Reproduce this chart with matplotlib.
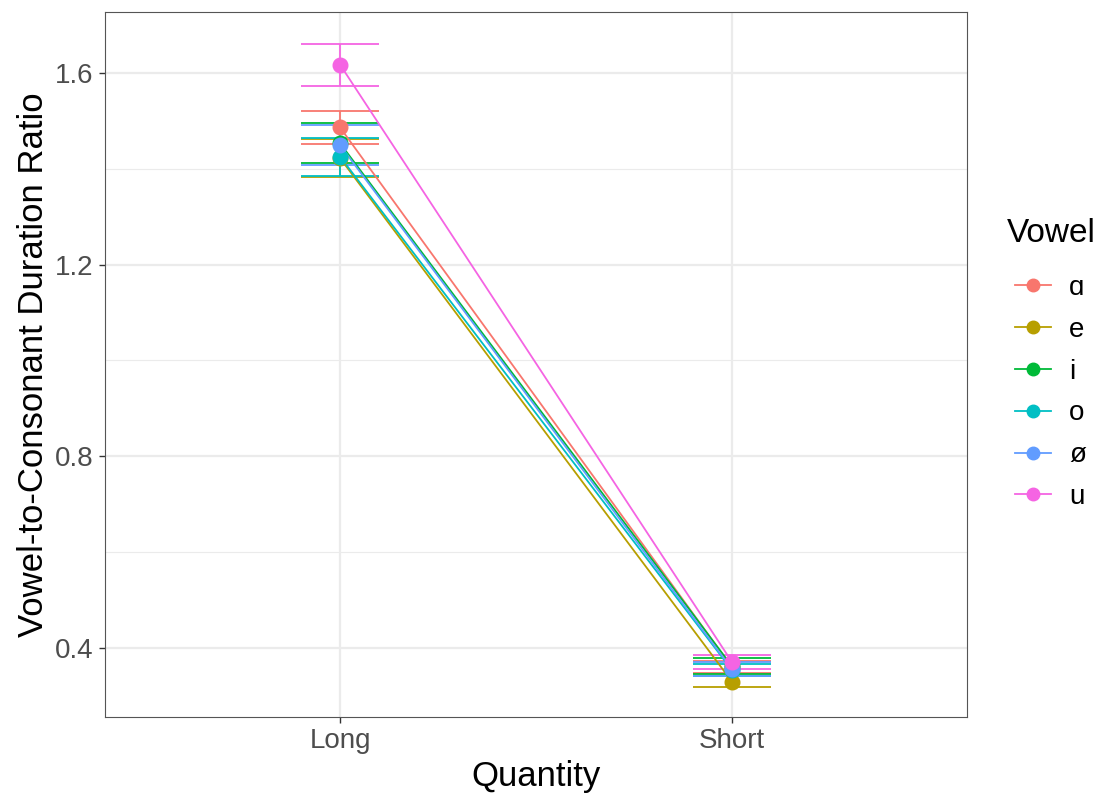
import matplotlib
matplotlib.use("Agg")
from matplotlib import pyplot as plt
from matplotlib.ticker import MultipleLocator
from matplotlib.lines import Line2D

# values
quantity = ["Long", "Short"]
vowels = ["ɑ", "e", "i", "o", "ø", "u"]
long_mean = [1.486, 1.422, 1.453, 1.425, 1.449, 1.617]
long_se = [0.035, 0.040, 0.042, 0.040, 0.042, 0.044]
short_mean = [0.360, 0.330, 0.362, 0.354, 0.356, 0.371]
short_se = [0.012, 0.012, 0.017, 0.012, 0.015, 0.014]
colors = ["#F8766D", "#B79F00", "#00BA38", "#00BFC4", "#619CFF", "#F564E3"]


def main():
    plt.rcParams["font.family"] = ["Liberation Sans", "DejaVu Sans"]
    fig = plt.figure(figsize=(11.12, 7.98), dpi=100)
    ax = fig.add_axes([0.0944, 0.1015, 0.7752, 0.8835])

    x = [1, 2]
    lw = 1.3
    for i, v in enumerate(vowels):
        c = colors[i]
        means = [long_mean[i], short_mean[i]]
        ses = [long_se[i], short_se[i]]
        for xi, m, s in zip(x, means, ses):
            ax.vlines(xi, m - s, m + s, color=c, lw=lw, zorder=3)
            ax.hlines([m - s, m + s], xi - 0.1, xi + 0.1, color=c, lw=lw, zorder=3)
        ax.plot(x, means, color=c, lw=lw, zorder=4)
        ax.plot(x, means, "o", color=c, markersize=10.5, zorder=5)

    ax.set_xlim(0.4, 2.6)
    ax.set_ylim(0.256, 1.727)
    ax.set_xticks(x)
    ax.set_xticklabels(quantity)
    ax.yaxis.set_minor_locator(MultipleLocator(0.2))
    ax.set_yticks([0.4, 0.8, 1.2, 1.6])
    ax.set_yticklabels(["0.4", "0.8", "1.2", "1.6"])

    ax.grid(which="major", color="#EBEBEB", lw=1.6, zorder=0)
    ax.grid(which="minor", axis="y", color="#EBEBEB", lw=0.8, zorder=0)
    ax.set_axisbelow(True)
    ax.tick_params(which="major", length=4, width=1, color="#333333",
                   labelsize=20, labelcolor="#4D4D4D", pad=4)
    ax.tick_params(which="minor", length=0)
    for sp in ax.spines.values():
        sp.set_color("#555555")
        sp.set_linewidth(0.8)

    ax.set_xlabel("Quantity", fontsize=25, labelpad=4)
    ax.set_ylabel("Vowel-to-Consonant Duration Ratio", fontsize=25, labelpad=4)

    # legend title drawn apart so its gap to the keys matches ggplot
    fig.text(1007 / 1112, 1 - 233 / 798, "Vowel", fontsize=24,
             ha="left", va="center")
    handles = [Line2D([0], [0], color=c, lw=lw, marker="o", markersize=9)
               for c in colors]
    fig.legend(handles, vowels, loc="upper left",
               bbox_to_anchor=(1001 / 1112, 1 - 261 / 798), frameon=False,
               borderpad=0, fontsize=20, labelspacing=0.57,
               handlelength=1.3, handletextpad=0.65)

    fig.savefig("out.png", dpi=100)


if __name__ == "__main__":
    main()
